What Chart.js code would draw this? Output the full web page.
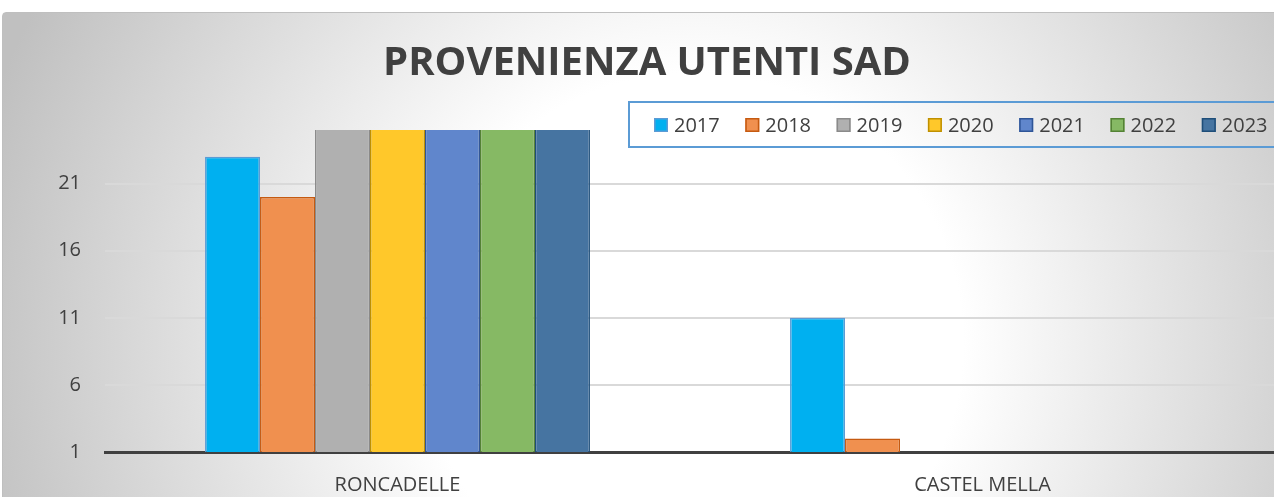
<!DOCTYPE html>
<html>
<head>
<meta charset="utf-8">
<title>Provenienza utenti SAD</title>
<script src="https://cdn.jsdelivr.net/npm/chart.js@4.4.1/dist/chart.umd.min.js"></script>
<style>
  html, body { margin: 0; padding: 0; background: #fff; overflow: hidden; }
  #frame {
    position: absolute; left: 2px; top: 12px; width: 1320px; height: 520px;
    border: 1px solid #bfbfbf; border-radius: 4px;
    background: radial-gradient(circle at 690px 330px, #ffffff 0px, #ffffff 270px, #c0c0c0 740px);
  }
  #chart { position: absolute; left: 0; top: 0; }
</style>
</head>
<body>
<div id="frame"></div>
<canvas id="chart" width="1292" height="497"></canvas>
<script>
const titleText = 'PROVENIENZA UTENTI SAD';
const categories = ['RONCADELLE', 'CASTEL MELLA'];
const years = ['2017', '2018', '2019', '2020', '2021', '2022', '2023'];

// valori per anno: [Roncadelle, Castel Mella]
// 2019-2023 Roncadelle escono dal grafico (tagliati in alto)
const v2017 = [23, 11];
const v2018 = [20, 2];
const v2019 = [28, 0];
const v2020 = [27, 0];
const v2021 = [30, 0];
const v2022 = [29, 0];
const v2023 = [31, 0];

const yTicks = [1, 6, 11, 16, 21];

const fills = ['#00b0f0', '#f0904f', '#b0b0b0', '#ffc82a', '#6086cc', '#86b964', '#4674a1'];
const borders = ['#5b9bd5', '#c55a11', '#8a8a8a', '#bf9000', '#2f5597', '#548235', '#1f4e79'];

const series = [v2017, v2018, v2019, v2020, v2021, v2022, v2023];
const textColor = '#404040';

// titolo e legenda disegnati a mano (la legenda si sovrappone all'area del grafico)
const overlay = {
  id: 'overlay',
  afterDraw(chart) {
    const ctx = chart.ctx;
    ctx.save();
    ctx.fillStyle = textColor;
    ctx.font = 'bold 40px "Open Sans"';
    ctx.textAlign = 'center';
    ctx.textBaseline = 'middle';
    ctx.fillText(titleText, 647, 64);

    ctx.strokeStyle = '#5b9bd5';
    ctx.lineWidth = 2;
    ctx.strokeRect(629, 102, 720, 45);

    ctx.font = '20px "Open Sans"';
    ctx.textAlign = 'left';
    chart.data.datasets.forEach((ds, i) => {
      const x = 654 + i * 91.3;
      ctx.fillStyle = ds.backgroundColor;
      ctx.fillRect(x, 118, 14, 14);
      ctx.strokeStyle = ds.borderColor;
      ctx.lineWidth = 1.5;
      ctx.strokeRect(x + 0.75, 118.75, 12.5, 12.5);
      ctx.fillStyle = textColor;
      ctx.fillText(ds.label, x + 20, 126);
    });
    ctx.restore();
  }
};

new Chart(document.getElementById('chart'), {
  type: 'bar',
  data: {
    labels: categories,
    datasets: years.map((y, i) => ({
      label: y,
      data: series[i],
      backgroundColor: fills[i],
      borderColor: borders[i],
      borderWidth: 1.5,
      categoryPercentage: 0.658,
      barPercentage: 1,
      clip: 0,
    })),
  },
  options: {
    responsive: false,
    animation: false,
    layout: { padding: { top: 130, right: 17, bottom: 0, left: 0 } },
    plugins: {
      legend: { display: false },
      title: { display: false },
      tooltip: { enabled: false },
    },
    scales: {
      x: {
        grid: { display: false },
        border: { display: true, color: '#404040', width: 3 },
        ticks: { color: textColor, font: { family: 'Open Sans', size: 20 }, padding: 13 },
        afterFit: s => { s.height = 45; },
      },
      y: {
        min: 1,
        max: 25,
        afterBuildTicks: s => { s.ticks = yTicks.map(v => ({ value: v })); },
        afterFit: s => { s.width = 105; },
        grid: { color: '#d9d9d9', lineWidth: 2, drawTicks: false },
        border: { display: false },
        ticks: { color: textColor, font: { family: 'Open Sans', size: 20 }, padding: 24 },
      },
    },
  },
  plugins: [overlay],
});
</script>
</body>
</html>
